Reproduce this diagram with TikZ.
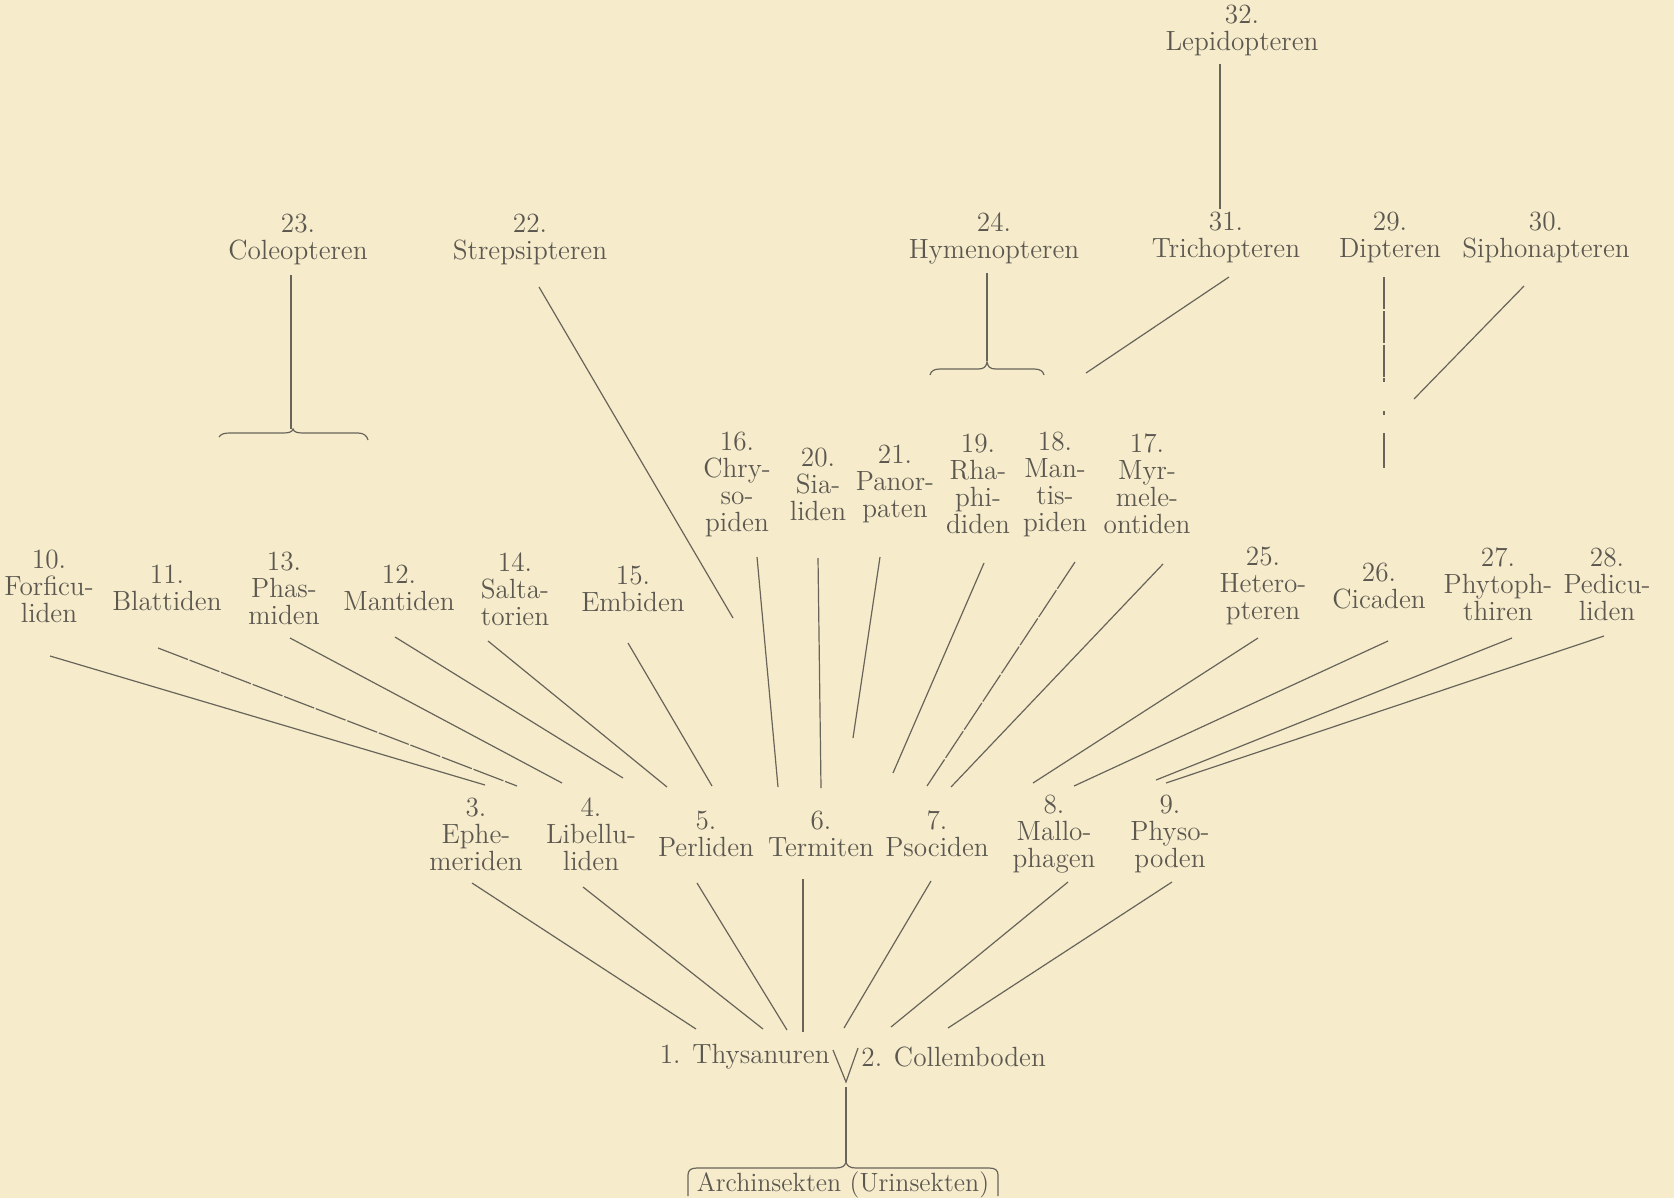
\documentclass[tikz,border=0pt]{standalone}
\usepackage{fontspec}
\newfontfamily\labfont{Latin Modern Roman}[FakeStretch=0.98]
\usetikzlibrary{calc}
\definecolor{paper}{RGB}{246,236,204}
\definecolor{ink}{RGB}{92,88,80}
\definecolor{linecol}{RGB}{105,100,90}
\begin{document}
\begin{tikzpicture}[x=0.5pt,y=-0.5pt,
  lab/.style={align=center,inner sep=0pt,text=ink,font=\labfont\fontsize{13.9}{13.5}\selectfont},
  conn/.style={draw=linecol,line width=0.6pt},
  broken/.style={conn,dash pattern=on 16pt off 0.9pt}]
\fill[paper] (0,0) rectangle (1674,1198);
\useasboundingbox (0,0) rectangle (1674,1198);

% ---- top labels
\node[lab] (n32) at (1242,30) {32.\\Lepidopteren};
\node[lab] (n31) at (1226,237) {31.\\Trichopteren};
\node[lab] (n24) at (994,238) {24.\\Hymenopteren};
\node[lab] (n29) at (1390,237) {29.\\Dipteren};
\node[lab] (n30) at (1546,237) {30.\\Siphonapteren};
\node[lab] (n23) at (298,239) {23.\\Coleopteren};
\node[lab] (n22) at (530,239) {22.\\Strepsipteren};

% ---- middle row
\node[lab] (n16) at (737,484) {16.\\Chry-\\so-\\piden};
\node[lab] (n20) at (818,484) {20.\\Sia-\\liden};
\node[lab] (n21) at (895,484) {21.\\Panor-\\paten};
\node[lab] (n19) at (978,484) {19.\\Rha-\\phi-\\diden};
\node[lab] (n18) at (1055,484) {18.\\Man-\\tis-\\piden};
\node[lab] (n17) at (1147,484) {17.\\Myr-\\mele-\\ontiden};

\node[lab] (n10) at (49,586) {10.\\Forficu-\\liden};
\node[lab] (n11) at (167,588) {11.\\Blattiden};
\node[lab] (n13) at (284,588) {13.\\Phas-\\miden};
\node[lab] (n12) at (399,588) {12.\\Mantiden};
\node[lab] (n14) at (515,589) {14.\\Salta-\\torien};
\node[lab] (n15) at (633,589) {15.\\Embiden};
\node[lab] (n25) at (1263,586) {25.\\Hetero-\\pteren};
\node[lab] (n26) at (1379,586) {26.\\Cicaden};
\node[lab] (n27) at (1498,584) {27.\\Phytoph-\\thiren};
\node[lab] (n28) at (1607,584) {28.\\Pedicu-\\liden};

% ---- lower row
\node[lab] (n3) at (476,834) {3.\\Ephe-\\meriden};
\node[lab] (n4) at (591,834) {4.\\Libellu-\\liden};
\node[lab] (n5) at (706,834) {5.\\Perliden};
\node[lab] (n6) at (821,834) {6.\\Termiten};
\node[lab] (n7) at (937,834) {7.\\Psociden};
\node[lab] (n8) at (1054,834) {8.\\Mallo-\\phagen};
\node[lab] (n9) at (1170,834) {9.\\Physo-\\poden};

\node[lab,anchor=east] (n1) at (830,1057) {1. Thysanuren};
\node[lab,anchor=west] (n2) at (861,1057) {2. Collemboden};
\node[lab,font=\labfont\fontsize{13.2}{13.5}\selectfont] (n0) at (843,1185) {Archinsekten (Urinsekten)};

% ---- connector end points
\foreach \nm/\x/\y in {
  s32/1220/64, e32/1220/209,
  s23/291/275, e23/291/429,
  s22/539/287, e22/733/618,
  s24/987/273, e24/987/361,
  s31/1229/277, e31/1086/373,
  s30/1524/286, e30/1414/399,
  s10/50/656, e10/485/785,
  s11/158/648, e11/517/786,
  s13/290/638, e13/562/783,
  s12/395/637, e12/623/778,
  s14/488/641, e14/667/787,
  s15/628/643, e15/712/786,
  s16/757/557, e16/778/787,
  s20/818/558, e20/821/788,
  s21/880/557, e21/853/738,
  s19/984/563, e19/893/773,
  s18/1075/562, e18/927/786,
  s17/1163/564, e17/951/787,
  s25/1258/638, e25/1033/783,
  s26/1388/641, e26/1074/786,
  s27/1512/638, e27/1156/780,
  s28/1604/636, e28/1166/783,
  s3/472/883, e3/696/1029,
  s4/583/887, e4/763/1029,
  s5/697/883, e5/787/1030,
  s6/803/879, e6/803/1032,
  s7/931/881, e7/844/1028,
  s8/1068/882, e8/891/1027,
  s9/1172/882, e9/948/1028,
  vl/833/1050, vb/846/1082, vr/858/1048, vt/846/1087, vbr/846/1162}
  {\coordinate (\nm) at (\x,\y);}

% ---- connectors
\draw[conn] (s32) -- (e32);
\draw[conn] (s23) -- (e23);
\draw[conn] (s22) -- (e22);
\draw[conn] (s24) -- (e24);
\draw[conn] (s31) -- (e31);
\draw[conn] (s30) -- (e30);
\draw[broken] (1384,277) -- (1384,382);
\draw[conn] (1384,411) -- (1384,415);
\draw[conn] (1384,433) -- (1384,468);

\foreach \k in {10,13,12,14,15,16,20,21,19,17,25,26,27,28,3,4,5,6,7,8,9}
  {\draw[conn] (s\k) -- (e\k);}
\draw[broken] (s11) -- (e11);
\draw[broken] (s18) -- (e18);

\draw[conn] (vl) -- (vb) -- (vr);
\draw[conn] (vt) -- (vbr);

% ---- braces
\draw[conn] (219,437) .. controls (221,434) and (224,433) .. (230,433)
  -- (283,433) .. controls (289,433) and (292,432) .. (293,429)
  .. controls (294,432) and (297,433) .. (303,433)
  -- (358,433) .. controls (364,433) and (367,436) .. (368,440);
\draw[conn] (930,375) .. controls (931,371) and (934,369) .. (940,369)
  -- (978,369) .. controls (984,369) and (986,367) .. (987,362)
  .. controls (988,367) and (990,369) .. (996,369)
  -- (1034,369) .. controls (1040,369) and (1043,371) .. (1044,375);
\draw[conn] (688,1196) -- (688,1175) .. controls (688,1170) and (691,1168) .. (697,1168)
  -- (836,1168) .. controls (842,1168) and (845,1166) .. (vbr)
  .. controls (847,1166) and (850,1168) .. (856,1168)
  -- (989,1168) .. controls (995,1168) and (998,1170) .. (998,1175) -- (998,1196);
\end{tikzpicture}
\end{document}
